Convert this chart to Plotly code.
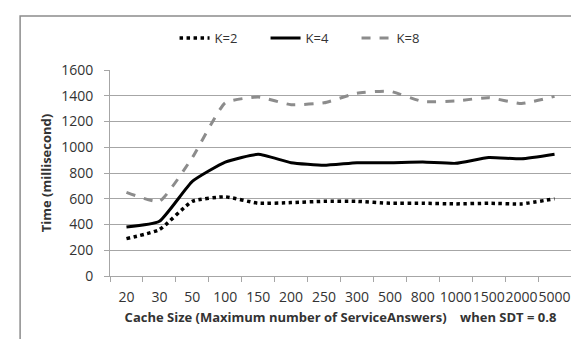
import plotly.graph_objects as go

categories = ["20", "30", "50", "100", "150", "200", "250", "300", "500", "800", "1000", "1500", "2000", "5000"]
k2 = [290, 360, 580, 615, 565, 570, 580, 580, 565, 565, 560, 565, 560, 600]
k4 = [380, 425, 735, 885, 945, 880, 860, 880, 880, 885, 875, 920, 910, 945]
k8 = [650, 580, 920, 1345, 1390, 1330, 1345, 1420, 1435, 1355, 1360, 1385, 1340, 1395]
y_ticks = [0, 200, 400, 600, 800, 1000, 1200, 1400, 1600]

FONT = "Open Sans"
fig = go.Figure()
fig.add_trace(go.Scatter(x=categories, y=k2, name="K=2", mode="lines",
                         line=dict(color="black", width=3.5, dash="dot", shape="spline", smoothing=0.45)))
fig.add_trace(go.Scatter(x=categories, y=k4, name="K=4", mode="lines",
                         line=dict(color="black", width=3, shape="spline", smoothing=0.45)))
fig.add_trace(go.Scatter(x=categories, y=k8, name="K=8", mode="lines",
                         line=dict(color="#8c8c8c", width=3, dash="dash", shape="spline", smoothing=0.45)))

fig.update_layout(
    width=579, height=339,
    margin=dict(l=102, r=16, t=62, b=71),
    paper_bgcolor="white", plot_bgcolor="white",
    font=dict(family=FONT, size=14, color="#333333"),
    showlegend=True,
    legend=dict(orientation="h", x=0.14, xanchor="left", y=1.155, yanchor="middle",
                font=dict(size=13), traceorder="normal", bgcolor="rgba(0,0,0,0)",
                entrywidth=46, entrywidthmode="pixels"),
    xaxis=dict(type="category", range=[-0.5, 13.5], showgrid=False, showline=True,
               linecolor="#a6a6a6", linewidth=1,
               ticks="outside", tickson="boundaries", ticklen=5, tickcolor="#a6a6a6",
               tickfont=dict(size=14), tickangle=0, ticklabelstandoff=8, automargin=False,
               title=dict(text="<b>Cache Size (Maximum number of ServiceAnswers)    when SDT = 0.8</b>",
                          font=dict(size=13), standoff=8)),
    yaxis=dict(range=[0, 1600], tickvals=y_ticks, showgrid=True, gridcolor="#a6a6a6", gridwidth=1,
               showline=True, linecolor="#a6a6a6", linewidth=1, ticks="outside", ticklen=5,
               tickcolor="#a6a6a6", zeroline=False, tickfont=dict(size=14), automargin=False,
               ticklabelstandoff=8,
               title=dict(text="<b>Time (millisecond)</b>", font=dict(size=13), standoff=6)),
)
fig.add_shape(type="rect", xref="paper", yref="paper", x0=-0.195, x1=1.1, y0=-0.5, y1=1.262,
              line=dict(color="#8c8c8c", width=1.5), fillcolor="rgba(0,0,0,0)")
fig.write_html("out.html")
